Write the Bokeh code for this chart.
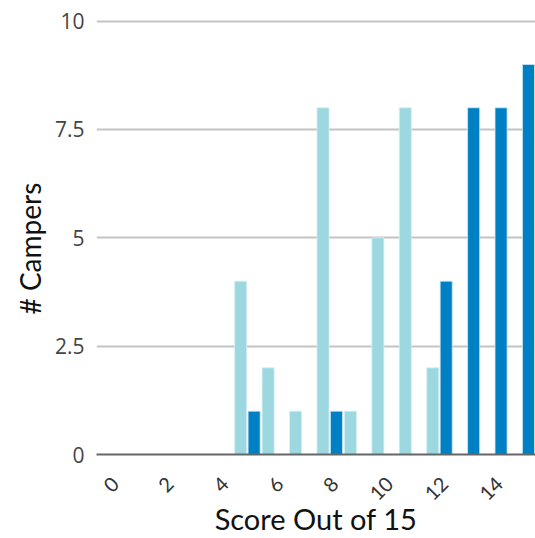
import math
from bokeh.plotting import figure
from bokeh.models import ColumnDataSource, Range1d, FixedTicker, LinearAxis, Title
from bokeh.transform import dodge
from bokeh.embed import file_html
from bokeh.resources import INLINE

scores = list(range(0, 15))
light_counts = [0, 0, 0, 0, 4, 2, 1, 8, 1, 5, 8, 2, 0, 0, 0]
dark_counts = [0, 0, 0, 0, 1, 0, 0, 1, 0, 0, 0, 4, 8, 8, 9]
x_ticks = [0, 2, 4, 6, 8, 10, 12, 14]
y_ticks = [0, 2.5, 5, 7.5, 10]

LIGHT = "#9dd8e1"
DARK = "#0080c4"

X_START, X_END = -1.5, 14.5
LABEL_SHIFT = 0.81  # rotated labels sit to the left of their group

def nonzero(xs, ys):
    pairs = [(x, y) for x, y in zip(xs, ys) if y > 0]
    return ColumnDataSource(dict(score=[a for a, _ in pairs], count=[b for _, b in pairs]))

src_light = nonzero(scores, light_counts)
src_dark = nonzero(scores, dark_counts)

p = figure(width=535, height=538, output_backend="svg", toolbar_location=None,
           x_range=Range1d(X_START, X_END), y_range=Range1d(0, 10.475),
           x_axis_location=None,
           min_border_left=96, min_border_right=0, min_border_top=0, min_border_bottom=81)
p.extra_x_ranges = {"lbl": Range1d(X_START + LABEL_SHIFT, X_END + LABEL_SHIFT)}
p.outline_line_color = None
p.background_fill_color = "white"
p.border_fill_color = "white"

p.vbar(x=dodge("score", -0.245, range=p.x_range), top="count", width=0.44, bottom=0,
       source=src_light, fill_color=LIGHT, line_color="#d4f0f5", line_width=0.8)
p.vbar(x=dodge("score", 0.245, range=p.x_range), top="count", width=0.44, bottom=0,
       source=src_dark, fill_color=DARK, line_color="#cfe6f3", line_width=0.8)

# x axis
xaxis = LinearAxis(x_range_name="lbl", ticker=FixedTicker(ticks=x_ticks),
                   axis_label="Score Out of 15")
xaxis.major_tick_line_color = None
xaxis.minor_tick_line_color = None
xaxis.major_tick_out = 0
xaxis.major_tick_in = 0
xaxis.minor_tick_out = 0
xaxis.minor_tick_in = 0
xaxis.axis_line_color = "#666666"
xaxis.axis_line_width = 2
xaxis.major_label_orientation = math.pi / 4
xaxis.major_label_text_font = "Lato"
xaxis.major_label_text_font_size = "20px"
xaxis.major_label_text_color = "#333333"
xaxis.major_label_standoff = 26
xaxis.axis_label_standoff = -9
xaxis.axis_label_text_font = "Lato"
xaxis.axis_label_text_font_size = "29px"
xaxis.axis_label_text_line_height = 1.0
xaxis.axis_label_text_font_style = "normal"
xaxis.axis_label_text_color = "#111111"
p.add_layout(xaxis, "below")

# y axis
p.yaxis.ticker = FixedTicker(ticks=y_ticks)
p.yaxis.major_tick_line_color = None
p.yaxis.minor_tick_line_color = None
p.yaxis.major_tick_out = 0
p.yaxis.major_tick_in = 0
p.yaxis.minor_tick_out = 0
p.yaxis.minor_tick_in = 0
p.yaxis.axis_line_color = None
p.yaxis.major_label_text_font = "Open Sans"
p.yaxis.major_label_text_font_size = "21px"
p.yaxis.major_label_text_color = "#444444"
p.yaxis.major_label_standoff = 12

ytitle = Title(text="# Campers", align="left", text_font="Lato", text_font_size="28px",
               text_font_style="normal", text_color="#111111", offset=140, standoff=10)
p.add_layout(ytitle, "left")

p.xgrid.grid_line_color = None
p.ygrid.grid_line_color = "#c4c4c4"
p.ygrid.grid_line_width = 2

open("out.html", "w").write(file_html(p, INLINE))
